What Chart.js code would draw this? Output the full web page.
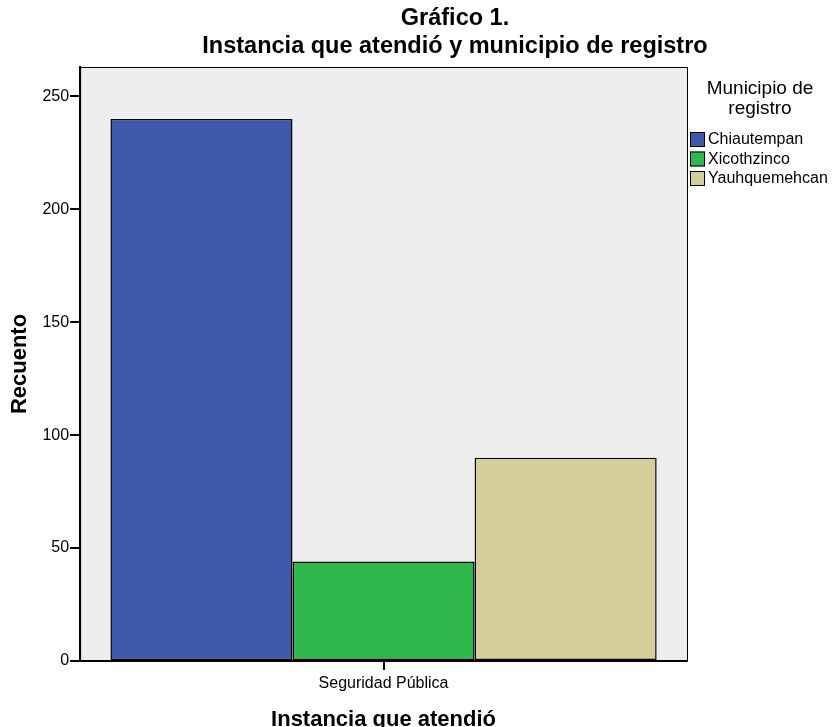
<!DOCTYPE html>
<html>
<head>
<meta charset="utf-8">
<script src="https://cdn.jsdelivr.net/npm/chart.js@4"></script>
<style>
  html, body { margin: 0; padding: 0; background: #ffffff; }
  #wrap { width: 835px; height: 727px; position: relative; }
</style>
</head>
<body>
<div id="wrap"><canvas id="chart" width="835" height="727"></canvas></div>
<script>
const categories = ['Seguridad Pública'];
const seriesNames = ['Chiautempan', 'Xicothzinco', 'Yauhquemehcan'];
const chiautempan = [240];
const xicothzinco = [44];
const yauhquemehcan = [90];
const seriesColors = ['#3e58ab', '#2fb84b', '#d4cf98'];
const yTicks = [0, 50, 100, 150, 200, 250];
const yMax = 263;
const titleLines = ['Gráfico 1.', 'Instancia que atendió y municipio de registro'];
const legendTitle = ['Municipio de', 'registro'];

const fontFam = '"Liberation Sans", Arial, sans-serif';

// plot background + frame, the title and a hand-placed legend on the right
const framePlugin = {
    id: 'frame',
    beforeDraw(chart) {
        const a = chart.chartArea;
        const ctx = chart.ctx;
        ctx.save();
        ctx.fillStyle = '#eeeeee';
        ctx.fillRect(a.left, a.top, a.right - a.left, a.bottom - a.top);
        ctx.restore();
    },
    afterDraw(chart) {
        const a = chart.chartArea;
        const ctx = chart.ctx;
        ctx.save();
        ctx.strokeStyle = '#000';
        ctx.lineWidth = 1;
        ctx.strokeRect(a.left + 0.5, a.top + 0.5, a.right - a.left, a.bottom - a.top);

        // title
        ctx.fillStyle = '#000';
        ctx.textAlign = 'center';
        ctx.textBaseline = 'middle';
        ctx.font = 'bold 23.5px ' + fontFam;
        titleLines.forEach((t, i) => ctx.fillText(t, 455, 19 + i * 28));

        // legend
        const cx = 760;
        ctx.font = '19px ' + fontFam;
        legendTitle.forEach((t, i) => ctx.fillText(t, cx, 89 + i * 20));
        ctx.textAlign = 'left';
        ctx.font = '16px ' + fontFam;
        chart.data.datasets.forEach((ds, i) => {
            const y = 139 + i * 19.5;
            ctx.fillStyle = ds.backgroundColor;
            ctx.fillRect(690, y - 7, 15, 15);
            ctx.strokeStyle = '#000';
            ctx.strokeRect(690.5, y - 6.5, 14, 14);
            ctx.fillStyle = '#000';
            ctx.fillText(ds.label, 708, y + 1);
        });
        ctx.restore();
    }
};

const series = [chiautempan, xicothzinco, yauhquemehcan];

new Chart(document.getElementById('chart'), {
    type: 'bar',
    data: {
        labels: categories,
        datasets: seriesNames.map((name, i) => ({
            label: name,
            data: series[i],
            backgroundColor: seriesColors[i],
            borderColor: '#000',
            borderWidth: 1.5,
            borderSkipped: false,
            categoryPercentage: 0.9,
            barPercentage: 1.0
        }))
    },
    options: {
        responsive: false,
        animation: false,
        devicePixelRatio: 1,
        layout: { padding: { left: 7, right: 148, top: 67, bottom: -4 } },
        plugins: {
            legend: { display: false },
            tooltip: { enabled: false },
            title: { display: false }
        },
        scales: {
            x: {
                grid: { offset: false, drawOnChartArea: false, drawTicks: true, tickLength: 9, color: '#000', lineWidth: 2 },
                border: { display: true, color: '#000', width: 2 },
                ticks: { color: '#000', font: { family: fontFam, size: 16, lineHeight: 1.0 }, padding: 6 },
                title: {
                    display: true,
                    text: 'Instancia que atendió',
                    color: '#000',
                    font: { family: fontFam, size: 22, weight: 'bold', lineHeight: 1.0 },
                    padding: { top: 11, bottom: 0 }
                }
            },
            y: {
                min: 0,
                max: yMax,
                afterBuildTicks(axis) {
                    axis.ticks = yTicks.map(v => ({ value: v }));
                },
                grid: { drawOnChartArea: false, drawTicks: true, tickLength: 10, color: '#000', lineWidth: 2 },
                border: { display: true, color: '#000', width: 2 },
                ticks: { color: '#000', font: { family: fontFam, size: 16 }, padding: 1 },
                title: {
                    display: true,
                    text: 'Recuento',
                    color: '#000',
                    font: { family: fontFam, size: 22, weight: 'bold' },
                    padding: { top: 0, bottom: 8 }
                }
            }
        }
    },
    plugins: [framePlugin]
});
</script>
</body>
</html>
